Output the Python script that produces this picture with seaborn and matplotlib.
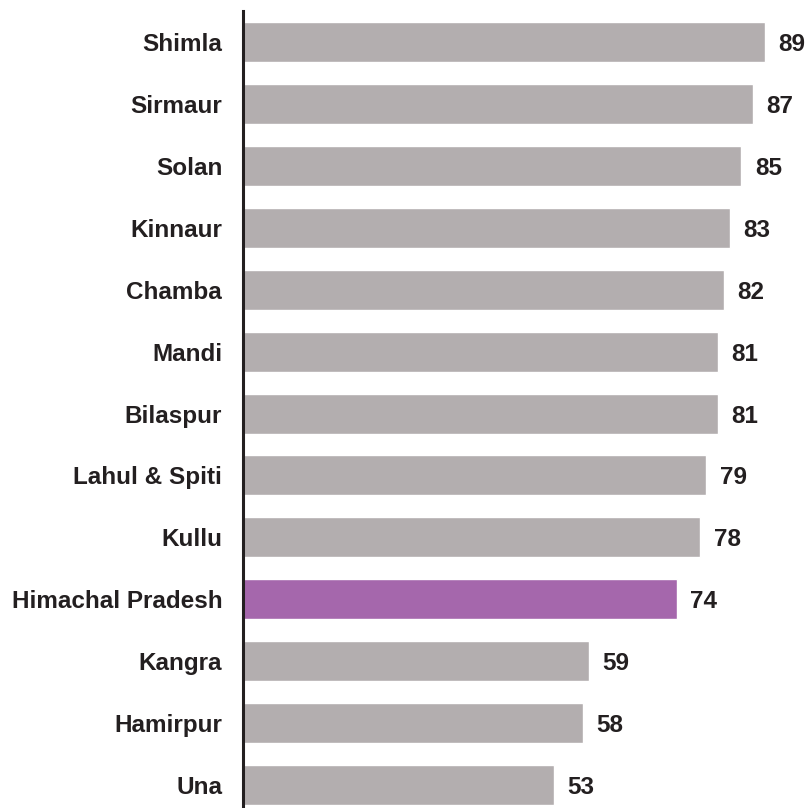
import matplotlib
matplotlib.use("Agg")
import matplotlib.pyplot as plt
import seaborn as sns
import pandas as pd

districts = ["Shimla", "Sirmaur", "Solan", "Kinnaur", "Chamba", "Mandi", "Bilaspur",
             "Lahul & Spiti", "Kullu", "Himachal Pradesh", "Kangra", "Hamirpur", "Una"]
values = [89, 87, 85, 83, 82, 81, 81, 79, 78, 74, 59, 58, 53]
highlight = "Himachal Pradesh"

grey = "#b3aeaf"
purple = "#a567ac"
dark = "#231f20"

sns.set_theme(style="white")
plt.rcParams["font.family"] = ["Liberation Sans", "DejaVu Sans"]

df = pd.DataFrame({"district": districts, "value": values})
palette = {d: (purple if d == highlight else grey) for d in districts}

fig = plt.figure(figsize=(8.10, 8.08), dpi=100)
ax = fig.add_axes([243 / 810, 0, (810 - 243) / 810, 797 / 808])

sns.barplot(data=df, y="district", x="value", hue="district", palette=palette,
            order=districts, legend=False, width=0.646, saturation=1, ax=ax)

for i, v in enumerate(values):
    ax.text(v + 2.3, i, f"{v}", va="center_baseline", ha="left", fontsize=17.5,
            fontweight="bold", color=dark)

ax.set_xlim(0, 96.7)
ax.set_ylim(12.37, -0.5)
ax.set_xlabel("")
ax.set_ylabel("")
ax.set_xticks([])
ax.tick_params(axis="y", length=0, pad=15)
for lbl in ax.get_yticklabels():
    lbl.set_fontsize(17.5)
    lbl.set_fontweight("bold")
    lbl.set_color(dark)

for side in ["top", "right", "bottom"]:
    ax.spines[side].set_visible(False)
ax.spines["left"].set_color(dark)
ax.spines["left"].set_linewidth(2.2)

fig.savefig("out.png", dpi=100)
